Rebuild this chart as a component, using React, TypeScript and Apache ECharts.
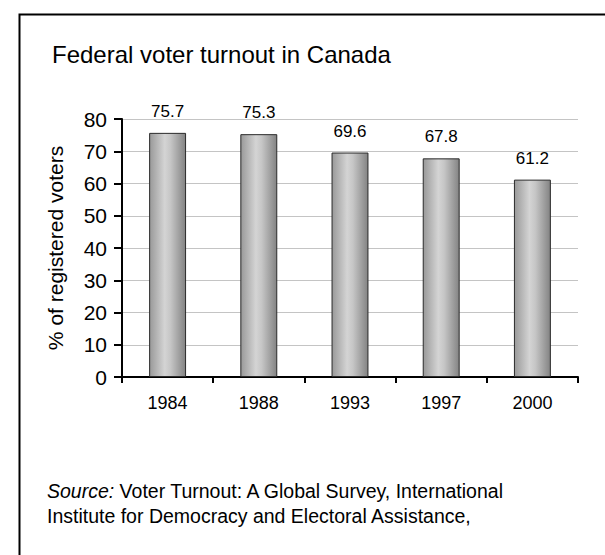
import React, { useEffect, useRef } from "react";
import * as echarts from "echarts";

// Federal election years and turnout (% of registered voters)
const years = ["1984", "1988", "1993", "1997", "2000"];
const turnout = [75.7, 75.3, 69.6, 67.8, 61.2];

const titleText = "Federal voter turnout in Canada";
const yAxisTitle = "% of registered voters";
const sourceLabel = "Source:";
const sourceLine1 = " Voter Turnout: A Global Survey, International";
const sourceLine2 = "Institute for Democracy and Electoral Assistance,";

const FONT = "'Liberation Sans', Arial, Helvetica, sans-serif";

export default function App() {
  const ref = useRef<HTMLDivElement>(null);

  useEffect(() => {
    if (!ref.current) return;
    const chart = echarts.init(ref.current, undefined, { renderer: "svg" });

    const barFill = new echarts.graphic.LinearGradient(0, 0, 1, 0, [
      { offset: 0, color: "#999999" },
      { offset: 0.42, color: "#d4d4d4" },
      { offset: 0.58, color: "#c6c6c6" },
      { offset: 1, color: "#838383" },
    ]);

    chart.setOption({
      animation: false,
      backgroundColor: "#ffffff",
      textStyle: { fontFamily: FONT, color: "#000" },
      title: {
        text: titleText,
        left: 47,
        top: 37,
        textStyle: { fontFamily: FONT, fontSize: 24, fontWeight: "normal", color: "#000" },
      },
      grid: { left: 122, right: 27, top: 119, bottom: 178, containLabel: false },
      xAxis: {
        type: "category",
        data: years,
        axisLine: { lineStyle: { color: "#000", width: 2 } },
        axisTick: { show: true, length: 6, lineStyle: { color: "#000", width: 2 } },
        axisLabel: { fontFamily: FONT, fontSize: 18, color: "#000", margin: 17 },
        splitLine: { show: false },
      },
      yAxis: {
        type: "value",
        min: 0,
        max: 80,
        interval: 10,
        name: yAxisTitle,
        nameLocation: "middle",
        nameRotate: 90,
        nameGap: 56,
        nameTextStyle: { fontFamily: FONT, fontSize: 21, color: "#000" },
        axisLine: { show: true, lineStyle: { color: "#000", width: 2 } },
        axisTick: { show: true, length: 8, lineStyle: { color: "#000", width: 2 } },
        axisLabel: { fontFamily: FONT, fontSize: 21, color: "#000", margin: 15 },
        splitLine: { show: true, lineStyle: { color: "#c4c4c4", width: 1 } },
      },
      series: [
        {
          type: "bar",
          data: turnout,
          barWidth: "40.5%",
          itemStyle: { color: barFill, borderColor: "#2a2a2a", borderWidth: 1 },
          label: {
            show: true,
            position: "top",
            distance: 13,
            fontFamily: FONT,
            fontSize: 17,
            color: "#000",
            formatter: (p: any) => Number(p.value).toFixed(1),
          },
        },
      ],
      graphic: [
        {
          type: "rect",
          left: 17,
          top: 12,
          shape: { x: 0, y: 0, width: 700, height: 700 },
          style: { fill: "none", stroke: "#000", lineWidth: 2 },
          silent: true,
          z: -1,
        },
        {
          type: "text",
          x: 47,
          y: 478,
          style: {
            text: `{i|${sourceLabel}}{n|${sourceLine1}}\n{n|${sourceLine2}}`,
            font: `19.5px ${FONT}`,
            fill: "#000",
            lineHeight: 25,
            rich: {
              i: { fontFamily: FONT, fontSize: 19.5, fontStyle: "italic", lineHeight: 25, fill: "#000" },
              n: { fontFamily: FONT, fontSize: 19.5, lineHeight: 25, fill: "#000" },
            },
          },
        },
      ],
    });

    return () => chart.dispose();
  }, []);

  return (
    <div
      ref={ref}
      style={{ position: "fixed", left: 0, top: 0, width: 605, height: 555 }}
    />
  );
}
